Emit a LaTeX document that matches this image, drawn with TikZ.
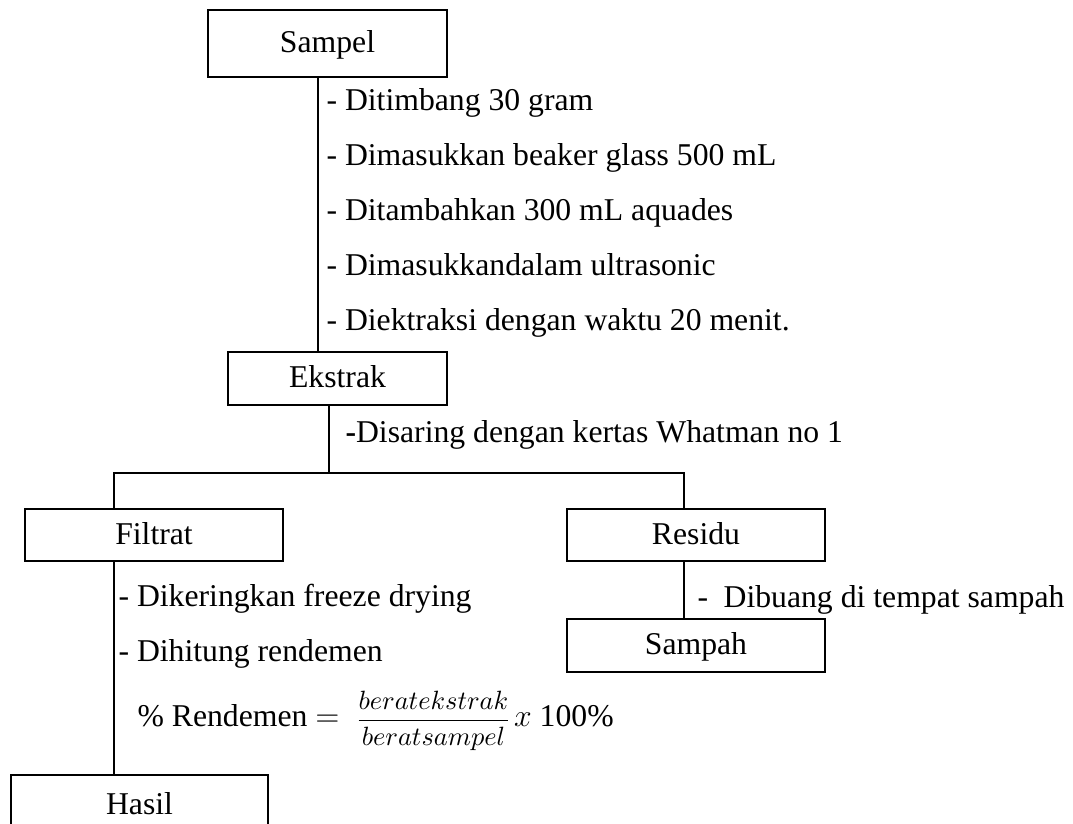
\documentclass[tikz,border=0pt]{standalone}
\usepackage{fontspec}
\setmainfont{Liberation Serif}
\def\px{0.3785pt}
\tikzset{
  stagebox/.style={draw, line width=0.75pt, inner sep=0pt, text height=9pt, text depth=2pt},
  steptext/.style={anchor=base west, inner sep=0pt},
  link/.style={line width=0.75pt}
}
\begin{document}
\begin{tikzpicture}[x=\px, y=-\px, font=\fontsize{12}{14}\selectfont]
\useasboundingbox (0,0) rectangle (1073,824);

% stage boxes
\node[stagebox, minimum width=239*\px, minimum height=67*\px] (sampel) at (327.5,43.5) {Sampel};
\node[stagebox, minimum width=219*\px, minimum height=53*\px] (ekstrak) at (337.5,378.5) {Ekstrak};
\node[stagebox, minimum width=258*\px, minimum height=52*\px] (filtrat) at (154,535) {Filtrat};
\node[stagebox, minimum width=258*\px, minimum height=52*\px] (residu) at (696,535) {Residu};
\node[stagebox, minimum width=258*\px, minimum height=53*\px] (sampah) at (696,645.5) {Sampah};
\node[stagebox, minimum width=257*\px, minimum height=60*\px] (hasil) at (139.5,805) {Hasil};

% trunk positions
\coordinate (trunkA) at (318,0);
\coordinate (split) at (329,473);
\coordinate (lft) at (114,473);
\coordinate (rgt) at (684,473);

% connectors
\draw[link] (sampel.south -| trunkA) -- (ekstrak.north -| trunkA);
\draw[link] (ekstrak.south -| split) -- (split);
\draw[link] (filtrat.north -| lft) -- (lft) -- (rgt) -- (residu.north -| rgt);
\draw[link] (residu.south -| rgt) -- (sampah.north -| rgt);
\draw[link] (filtrat.south -| lft) -- (hasil.north -| lft);

% process steps
\node[steptext] (s1) at (326,111) {- Ditimbang 30 gram};
\node[steptext] (s2) at (326,166) {- Dimasukkan beaker glass 500 mL};
\node[steptext] (s3) at (326,221) {- Ditambahkan 300 mL aquades};
\node[steptext] (s4) at (326,276) {- Dimasukkandalam ultrasonic};
\node[steptext] (s5) at (326,331) {- Diektraksi dengan waktu 20 menit.};
\node[steptext] (s6) at (345,443) {\textbf{-}Disaring dengan kertas Whatman no 1};
\node[steptext] (s7) at (697,608) {-\hspace{5.9pt}Dibuang di tempat sampah};
\node[steptext] (s8) at (118,607) {- Dikeringkan freeze drying};
\node[steptext] (s9) at (118,662) {- Dihitung rendemen};
\node[steptext] (s10) at (137,727) {\% Rendemen $=$\hspace{6pt}{\fontsize{10}{12}\selectfont$\displaystyle\frac{beratekstrak}{beratsampel}$}\hspace{1pt}$x$ 100\%};
\end{tikzpicture}
\end{document}
